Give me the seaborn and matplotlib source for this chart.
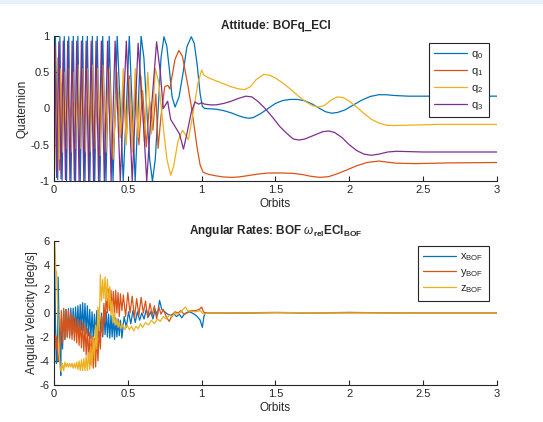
import matplotlib
matplotlib.use("Agg")
import matplotlib.pyplot as plt
from matplotlib.patches import Rectangle
import seaborn as sns

# ---------------- attitude quaternion (orbits vs component) ----------------
q0_t = [0, 0.01, 0.025, 0.04, 0.055, 0.07, 0.085, 0.1, 0.115, 0.131,
        0.146, 0.162, 0.178, 0.194, 0.21, 0.226, 0.243, 0.26, 0.276, 0.293,
        0.311, 0.33, 0.352, 0.374, 0.4, 0.428, 0.449, 0.469, 0.49, 0.51,
        0.53, 0.55, 0.57, 0.59, 0.609, 0.628, 0.648, 0.667, 0.686, 0.706,
        0.725, 0.745, 0.764, 0.783, 0.80, 0.82, 0.847, 0.875, 0.90, 0.93,
        0.95, 0.97, 0.99, 1.005, 1.02, 1.06, 1.1, 1.15, 1.2, 1.25,
        1.29, 1.32, 1.35, 1.4, 1.45, 1.5, 1.55, 1.6, 1.65, 1.7,
        1.75, 1.8, 1.84, 1.88, 1.92, 1.97, 2.02, 2.08, 2.14, 2.2,
        2.25, 2.3, 2.4, 2.6, 3.0]
q0_v = [-0.7, 0.98, -0.98, 0.99, -0.99, 0.99, -1.0, 0.99, -1.0, 1.0,
        -1.0, 1.0, -1.0, 1.0, -1.0, 1.0, -1.0, 1.0, -1.0, 1.0,
        -1.0, 1.0, -1.0, 1.0, -1.0, 1.0, 0.0, -1.0, 0.0, 1.0,
        0.0, -1.0, 0.0, 1.0, 0.7, 0.0, -0.7, -1.0, -0.7, 0.0,
        0.7, 0.99, 0.86, 0.51, 0.16, 0.02, 0.16, 0.5, 0.85, 0.99,
        0.9, 0.6, 0.2, 0.03, 0.0, -0.005, -0.01, -0.03, -0.06, -0.1,
        -0.125, -0.135, -0.125, -0.07, 0.0, 0.07, 0.11, 0.125, 0.125, 0.105,
        0.06, 0.0, -0.045, -0.065, -0.055, -0.02, 0.04, 0.11, 0.165, 0.19,
        0.19, 0.18, 0.17, 0.17, 0.17]

q1_t = [0, 0.008, 0.018, 0.028, 0.038, 0.048, 0.058, 0.072, 0.086, 0.1,
        0.115, 0.13, 0.146, 0.162, 0.178, 0.194, 0.21, 0.226, 0.243, 0.26,
        0.276, 0.293, 0.311, 0.33, 0.352, 0.374, 0.4, 0.428, 0.45, 0.469,
        0.49, 0.51, 0.53, 0.55, 0.575, 0.6, 0.625, 0.648, 0.67, 0.69,
        0.705, 0.725, 0.75, 0.77, 0.785, 0.80, 0.82, 0.846, 0.87, 0.89,
        0.91, 0.93, 0.95, 0.97, 0.99, 1.01, 1.05, 1.1, 1.15, 1.2,
        1.25, 1.3, 1.38, 1.45, 1.55, 1.62, 1.68, 1.74, 1.8, 1.86,
        1.92, 1.98, 2.05, 2.12, 2.2, 2.26, 2.32, 2.45, 2.7, 3.0]
q1_v = [0.3, 0.87, -0.6, 0.7, -0.85, 0.35, -0.25, 0.12, -0.1, 0.1,
        -0.12, 0.08, -0.1, 0.12, -0.08, 0.15, -0.2, 0.3, -0.35, 0.4,
        -0.45, 0.4, -0.5, 0.45, -0.5, 0.5, -0.65, 0.35, -0.4, 0.3,
        -0.4, 0.45, -0.45, 0.3, -0.5, 0.25, -0.53, 0.1, -0.3, 0.2,
        -0.55, -0.1, 0.3, 0.32, 0.27, 0.45, 0.68, 0.8, 0.72, 0.5,
        0.28, 0.03, -0.25, -0.55, -0.78, -0.88, -0.91, -0.93, -0.945, -0.95,
        -0.945, -0.93, -0.905, -0.89, -0.89, -0.895, -0.91, -0.935, -0.95, -0.94,
        -0.9, -0.85, -0.79, -0.745, -0.725, -0.74, -0.755, -0.76, -0.75, -0.745]

q2_t = [0, 0.006, 0.016, 0.026, 0.036, 0.046, 0.056, 0.07, 0.085, 0.1,
        0.115, 0.13, 0.146, 0.162, 0.178, 0.194, 0.21, 0.226, 0.243, 0.26,
        0.276, 0.293, 0.311, 0.33, 0.352, 0.374, 0.4, 0.428, 0.45, 0.469,
        0.49, 0.51, 0.53, 0.55, 0.57, 0.59, 0.612, 0.635, 0.66, 0.687,
        0.71, 0.74, 0.765, 0.79, 0.81, 0.84, 0.87, 0.89, 0.91, 0.93,
        0.955, 0.975, 1.0, 1.015, 1.05, 1.1, 1.15, 1.2, 1.25, 1.29,
        1.33, 1.37, 1.42, 1.46, 1.5, 1.55, 1.6, 1.65, 1.7, 1.75,
        1.79, 1.83, 1.88, 1.92, 1.96, 2.0, 2.05, 2.1, 2.15, 2.2,
        2.25, 2.3, 2.4, 2.6, 2.8, 3.0]
q2_v = [0.1, 0.7, -0.85, 0.6, -0.7, 0.55, -0.6, 0.5, -0.55, 0.55,
        -0.6, 0.5, -0.55, 0.6, -0.55, 0.55, -0.6, 0.55, -0.6, 0.6,
        -0.55, 0.55, -0.65, 0.6, -0.6, 0.55, -0.7, 0.5, -0.4, 0.55,
        -0.5, 0.4, -0.6, 0.55, -0.4, 0.45, -0.45, 0.5, -0.35, 0.55,
        0.35, -0.25, -0.7, -0.92, -0.8, -0.45, -0.3, -0.36, -0.43, -0.2,
        0.1, 0.35, 0.53, 0.46, 0.42, 0.38, 0.34, 0.3, 0.27, 0.26,
        0.3, 0.4, 0.47, 0.46, 0.42, 0.35, 0.27, 0.18, 0.1, 0.04,
        0.02, 0.04, 0.12, 0.16, 0.15, 0.1, 0.02, -0.07, -0.15, -0.2,
        -0.23, -0.235, -0.23, -0.22, -0.22, -0.22]

q3_t = [0, 0.006, 0.018, 0.033, 0.048, 0.063, 0.078, 0.093, 0.108, 0.123,
        0.138, 0.154, 0.170, 0.186, 0.202, 0.218, 0.235, 0.252, 0.268, 0.285,
        0.302, 0.321, 0.341, 0.363, 0.387, 0.414, 0.449, 0.49, 0.53, 0.57,
        0.60, 0.628, 0.66, 0.695, 0.72, 0.74, 0.77, 0.79, 0.82, 0.85,
        0.877, 0.9, 0.93, 0.955, 0.98, 1.0, 1.02, 1.06, 1.1, 1.15,
        1.2, 1.25, 1.3, 1.34, 1.38, 1.43, 1.48, 1.53, 1.58, 1.62,
        1.66, 1.7, 1.76, 1.82, 1.86, 1.9, 1.95, 2.0, 2.05, 2.1,
        2.15, 2.2, 2.26, 2.32, 2.5, 2.75, 3.0]
q3_v = [-0.3, 0.9, -0.95, 0.92, -0.97, 0.93, -0.98, 0.93, -0.99, 0.93,
        -0.99, 0.93, -1.0, 0.93, -1.0, 0.93, -1.0, 0.93, -1.0, 0.93,
        -1.0, 0.93, -1.0, 0.93, -1.0, 0.93, -1.0, 0.93, -1.0, 0.9,
        0.0, -1.0, 0.0, 0.92, 0.5, 0.0, 0.1, -0.15, -0.25, -0.35,
        -0.56, -0.35, -0.05, 0.09, 0.06, 0.08, 0.06, 0.05, 0.05, 0.07,
        0.1, 0.14, 0.17, 0.16, 0.1, 0.0, -0.12, -0.25, -0.35, -0.42,
        -0.435, -0.42, -0.37, -0.32, -0.31, -0.33, -0.4, -0.5, -0.58, -0.63,
        -0.645, -0.63, -0.6, -0.59, -0.6, -0.6, -0.6]

# ---------------- body angular rates [deg/s] ----------------
# detumbling burst, sampled every 0.008 orbit
burst_t = [0.05, 0.058, 0.066, 0.074, 0.082, 0.09, 0.098, 0.106, 0.114, 0.122,
           0.13, 0.138, 0.146, 0.154, 0.162, 0.17, 0.178, 0.186, 0.194, 0.202,
           0.21, 0.218, 0.226, 0.234, 0.242, 0.25, 0.258, 0.266, 0.274, 0.282,
           0.29, 0.298, 0.306, 0.314, 0.322, 0.33, 0.338, 0.346, 0.354, 0.362,
           0.37, 0.378, 0.386, 0.394, 0.402, 0.41, 0.418, 0.426, 0.434, 0.442,
           0.45]

wx_start_t = [0, 0.004, 0.01, 0.016, 0.022, 0.028, 0.034, 0.04, 0.046]
wx_start_v = [2.0, 5.0, -1.0, -4.2, -4.0, 3.0, -0.5, -3.5, -5.2]
wx_burst = [-0.5, -3.0, 0.2, -2.2, 0.3, -2.0, 0.35, -1.9, 0.4, -1.8,
            0.4, -1.7, 0.5, -1.6, 0.6, -1.5, 0.7, -1.4, 0.85, -1.5,
            0.8, -1.7, 0.6, -1.9, 0.3, -2.1, 0.1, -2.2, -0.1, -2.1,
            0.2, -2.0, 0.3, -1.9, 0.0, -2.0, 0.2, -1.8, 0.1, -2.0,
            -0.1, -2.1, -0.2, -2.0, -0.3, -2.2, -0.4, -2.0, -0.5, -1.9,
            -0.6]
wx_tail_t = [0.46, 0.475, 0.49, 0.505, 0.52, 0.535, 0.55, 0.565, 0.58, 0.595,
             0.61, 0.625, 0.64, 0.655, 0.67, 0.685, 0.70, 0.715, 0.73, 0.75,
             0.77, 0.79, 0.81, 0.83, 0.85, 0.865, 0.88, 0.9, 0.92, 0.95,
             0.97, 0.99, 1.005, 1.015, 1.025, 1.1, 1.3, 1.5, 1.7, 2.0,
             2.3, 3.0]
wx_tail_v = [-2.1, -0.3, -1.2, 0.1, -0.9, 0.2, -0.8, 0.1, -0.6, 0.0,
             -0.5, 0.3, -0.3, 0.1, -0.5, 0.3, -0.2, 1.05, 0.3, 0.1,
             -0.1, -0.2, -0.05, -0.3, -0.1, -0.4, -0.15, 0.05, 0.1, -0.1,
             -0.3, -0.6, -1.2, -0.3, 0.0, 0.0, -0.02, 0.03, 0.0, 0.05,
             0.0, 0.0]

wy_start_t = [0, 0.005, 0.01, 0.015, 0.02, 0.03, 0.038, 0.044]
wy_start_v = [-1.0, -2.5, -1.8, -3.0, -2.0, -4.0, -3.5, -2.0]
wy_burst = [0.2, -2.5, 0.4, -2.2, 0.3, -2.0, 0.2, -2.1, 0.0, -2.2,
            -0.2, -2.3, -0.4, -2.5, -0.5, -2.7, -0.6, -2.9, -0.8, -3.2,
            -1.0, -3.5, -1.3, -3.9, -1.6, -4.3, -1.9, -4.6, -2.1, -4.5,
            -1.8, -4.0, -1.2, -3.0, -0.3, -1.8, 0.8, -0.8, 1.6, 0.0,
            2.0, 0.2, 1.9, 0.1, 1.8, -0.2, 1.9, 0.0, 1.7, -0.3,
            1.6]
wy_tail_t = [0.46, 0.47, 0.485, 0.5, 0.515, 0.53, 0.545, 0.56, 0.575, 0.59,
             0.605, 0.62, 0.635, 0.65, 0.665, 0.68, 0.695, 0.71, 0.725, 0.74,
             0.76, 0.78, 0.8, 0.82, 0.84, 0.86, 0.88, 0.9, 0.93, 0.96,
             0.985, 1.0, 1.012, 1.025, 1.2, 1.5, 1.8, 2.1, 2.5, 3.0]
wy_tail_v = [0.2, 1.5, -0.3, 1.7, 0.0, 1.4, -0.4, 1.2, -0.2, 1.3,
             0.0, 1.0, -0.4, 0.8, -0.2, 0.6, -0.5, 0.5, -0.1, 0.3,
             -0.3, -0.7, -0.2, 0.1, 0.0, 0.2, -0.1, 0.0, 0.2, 0.2,
             0.3, 0.5, 0.1, 0.0, 0.0, 0.05, 0.0, 0.03, 0.0, 0.0]

wz_start_t = [0, 0.004, 0.008, 0.012, 0.018, 0.024, 0.03, 0.036, 0.042]
wz_start_v = [0.0, 5.9, 5.0, 3.6, 3.4, 1.0, -1.5, -3.5, -4.5]
wz_burst = [-4.9, -4.2, -4.8, -4.1, -4.5, -4.2, -4.5, -4.2, -4.5, -4.2,
            -4.6, -4.2, -4.6, -4.1, -4.7, -4.0, -4.8, -3.9, -4.8, -3.8,
            -4.8, -3.6, -4.8, -3.3, -4.7, -2.8, -4.4, -2.0, -3.8, -1.0,
            -3.0, 0.5, -1.5, 3.2, 1.0, 2.8, 1.2, 3.0, 1.0, 2.8,
            0.5, 2.2, -0.2, 1.0, -0.8, 0.0, -1.0, -0.5, -1.2, -0.7,
            -1.3]
wz_tail_t = [0.465, 0.48, 0.495, 0.51, 0.525, 0.54, 0.555, 0.57, 0.585, 0.6,
             0.62, 0.64, 0.66, 0.68, 0.70, 0.72, 0.74, 0.76, 0.78, 0.8,
             0.82, 0.84, 0.86, 0.875, 0.89, 0.905, 0.93, 0.96, 0.99, 1.005,
             1.02, 1.04, 1.3, 1.6, 2.0, 3.0]
wz_tail_v = [-0.9, -1.4, -1.0, -1.4, -1.1, -1.5, -1.1, -1.3, -0.9, -1.2,
             -0.8, -1.0, -0.6, -0.9, -0.5, -0.7, -0.3, -0.5, -0.2, -0.3,
             0.0, -0.1, 0.1, 0.3, 0.5, 0.2, 0.15, 0.1, 0.2, 0.0,
             -0.1, 0.0, 0.0, 0.02, 0.0, 0.0]

colors = ["#0072BD", "#D95319", "#EDB120", "#7E2F8E"]
ink = "#262626"

sns.set_theme(style="ticks")
plt.rcParams["font.family"] = ["Liberation Sans", "DejaVu Sans"]
plt.rcParams["mathtext.fontset"] = "custom"
plt.rcParams["mathtext.rm"] = "Liberation Sans"
plt.rcParams["mathtext.it"] = "Liberation Sans:italic"
plt.rcParams["mathtext.bf"] = "Liberation Sans:bold"
plt.rcParams["axes.unicode_minus"] = False

fig = plt.figure(figsize=(5.43, 4.22), dpi=100)
fig.patches.append(Rectangle((0, 1 - 4 / 422), 1, 4 / 422, transform=fig.transFigure,
                             facecolor="#e6f0fb", edgecolor="none", zorder=0))

ax1 = fig.add_axes([0.0994, 0.5711, 0.8158, 0.3436])
ax2 = fig.add_axes([0.0994, 0.0877, 0.8158, 0.3412])


def trace(ax, t, v, color, label):
    sns.lineplot(x=t, y=v, ax=ax, color=color, linewidth=0.9, label=label,
                 sort=False, estimator=None)


trace(ax1, q0_t, q0_v, colors[0], r"q$_0$")
trace(ax1, q1_t, q1_v, colors[1], r"q$_1$")
trace(ax1, q2_t, q2_v, colors[2], r"q$_2$")
trace(ax1, q3_t, q3_v, colors[3], r"q$_3$")

trace(ax2, wx_start_t + burst_t + wx_tail_t, wx_start_v + wx_burst + wx_tail_v,
      colors[0], r"x$_{\mathrm{BOF}}$")
trace(ax2, wy_start_t + burst_t + wy_tail_t, wy_start_v + wy_burst + wy_tail_v,
      colors[1], r"y$_{\mathrm{BOF}}$")
trace(ax2, wz_start_t + burst_t + wz_tail_t, wz_start_v + wz_burst + wz_tail_v,
      colors[2], r"z$_{\mathrm{BOF}}$")


def style(ax, yticks, ylim):
    ax.set_xlim(0, 3)
    ax.set_ylim(*ylim)
    ax.set_xticks([0, 0.5, 1, 1.5, 2, 2.5, 3])
    ax.set_xticklabels(["0", "0.5", "1", "1.5", "2", "2.5", "3"])
    ax.set_yticks(yticks)
    ax.set_yticklabels([f"{v:g}" for v in yticks])
    for side in ("top", "right"):
        ax.spines[side].set_visible(False)
    for side in ("left", "bottom"):
        ax.spines[side].set_color(ink)
        ax.spines[side].set_linewidth(0.8)
    ax.tick_params(direction="in", length=3.5, width=0.8, colors=ink,
                   labelsize=8, pad=3)
    ax.set_xlabel("Orbits", fontsize=8.5, color=ink, labelpad=2)


style(ax1, [-1, -0.5, 0, 0.5, 1], (-1, 1))
style(ax2, [-6, -4, -2, 0, 2, 4, 6], (-6, 6))

ax1.set_ylabel("Quaternion", fontsize=8.5, color=ink, labelpad=1.5)
ax2.set_ylabel("Angular Velocity [deg/s]", fontsize=8.5, color=ink, labelpad=1)

ax1.set_title("Attitude: BOFq_ECI", fontsize=8.5, fontweight="bold", pad=5)
ax2.set_title(r"Angular Rates: BOF $\omega_{\mathbf{rel}}$ECI$_{\mathbf{BOF}}$",
              fontsize=8.5, fontweight="bold", pad=5)

leg_kw = dict(loc="upper right", borderaxespad=0, frameon=True, fancybox=False,
              fontsize=8, handlelength=2.9, handletextpad=0.4)
l1 = ax1.legend(bbox_to_anchor=(0.982, 0.952), labelspacing=0.45, borderpad=0.5, **leg_kw)
l2 = ax2.legend(bbox_to_anchor=(0.982, 0.965), labelspacing=0.35, borderpad=0.5, **leg_kw)
for leg in (l1, l2):
    fr = leg.get_frame()
    fr.set_edgecolor(ink)
    fr.set_linewidth(0.8)
    fr.set_alpha(1)

fig.savefig("out.png", dpi=100)
